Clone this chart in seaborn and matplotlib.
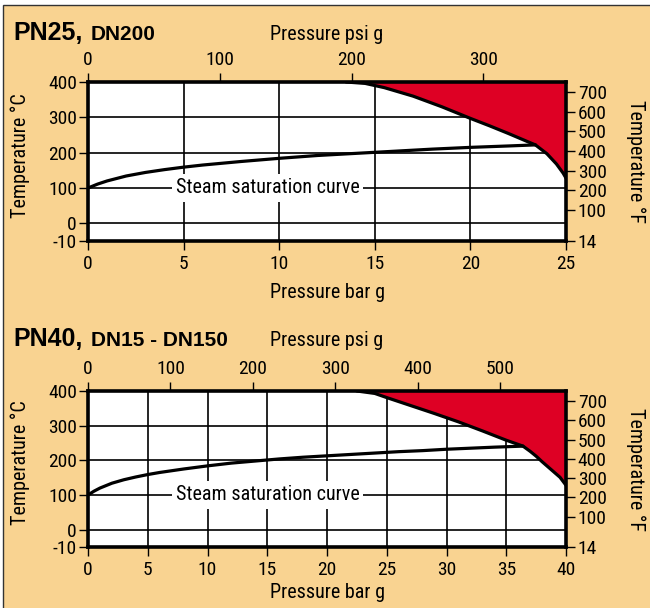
import numpy as np
import matplotlib
matplotlib.use("Agg")
import matplotlib.pyplot as plt
import matplotlib.transforms as mtransforms
from matplotlib.patches import Rectangle
import seaborn as sns
import pandas as pd

# ---------------- data ----------------
# Panel 1: PN25, DN200
sat25_p = [0, 0.5, 1, 2, 3, 4, 5, 6, 8, 10, 12, 14, 16, 18, 20, 22, 23.4]
sat25_t = [100, 111, 120, 134, 144, 152, 159, 165, 175, 184, 192, 198, 204, 210, 215, 219, 222]
lim25_p = [13.5, 14.5, 15.5, 17, 18.5, 20, 21, 22, 23, 23.4, 24, 24.5, 24.85, 25]
lim25_t = [400, 396, 384, 360, 330, 297, 276, 254, 231, 222, 197, 168, 142, 128]

# Panel 2: PN40, DN15 - DN150
sat40_p = [0, 0.5, 1, 2, 3, 4, 5, 6, 8, 10, 12, 14, 16, 18, 20, 22, 24, 26, 28, 30, 32, 34, 36.4]
sat40_t = [100, 111, 120, 134, 144, 152, 159, 165, 175, 184, 192, 198, 204, 209, 213, 217,
           221, 225, 228, 232, 235, 238, 241]
lim40_p = [22.5, 24, 25, 27, 29, 30, 31, 33, 35, 36.4, 37, 37.5, 38, 38.5, 39, 39.5, 40]
lim40_t = [400, 393, 381, 358, 335, 323, 311, 285, 258, 241, 226, 212, 196, 181, 166, 151, 128]

bar_ticks25 = [0, 5, 10, 15, 20, 25]
bar_ticks40 = [0, 5, 10, 15, 20, 25, 30, 35, 40]
psi_ticks25 = [0, 100, 200, 300]
psi_ticks40 = [0, 100, 200, 300, 400, 500]
degc_ticks = [-10, 0, 100, 200, 300, 400]
degf_ticks = [14, 100, 200, 300, 400, 500, 600, 700]

titles = [("PN25,", "DN200"), ("PN40,", "DN15 - DN150")]
curve_label = "Steam saturation curve"

# ---------------- style ----------------
sns.set_theme(style="white")
plt.rcParams["font.family"] = ["Roboto Condensed", "Liberation Sans", "DejaVu Sans"]
plt.rcParams["text.color"] = "black"
plt.rcParams["xtick.color"] = "black"
plt.rcParams["ytick.color"] = "black"

CREAM = "#F9D391"
RED = "#DE0024"
W, H = 650, 608
K = 5.0  # stretch of the -10..0 band


def fwd(y):
    y = np.asarray(y, dtype=float)
    return np.where(y < 0, y * K, y)


def inv(y):
    y = np.asarray(y, dtype=float)
    return np.where(y < 0, y / K, y)


def fwdF(f):
    f = np.asarray(f, dtype=float)
    return fwd((f - 32) * 5 / 9)


def invF(v):
    return inv(v) * 9 / 5 + 32


fig = plt.figure(figsize=(W / 100, H / 100), dpi=100)
fig.patch.set_facecolor("white")
fig.patches.append(Rectangle((3 / W, -0.1), 1.2, 1 - 5 / H + 0.1, transform=fig.transFigure,
                             facecolor=CREAM, edgecolor="#333333", linewidth=1.0, zorder=-10))


def px(x, y):
    return x / W, 1 - y / H


panels = [
    dict(top=82, bottom=241, xmax=25, sat_p=sat25_p, sat_t=sat25_t, lim_p=lim25_p, lim_t=lim25_t,
         bticks=bar_ticks25, pticks=psi_ticks25, title=titles[0], ty=40, by=298),
    dict(top=391, bottom=547, xmax=40, sat_p=sat40_p, sat_t=sat40_t, lim_p=lim40_p, lim_t=lim40_t,
         bticks=bar_ticks40, pticks=psi_ticks40, title=titles[1], ty=346, by=598),
]

LEFT, RIGHT = 88, 566
TICK_FS = 14
LAB_FS = 14.5

for P in panels:
    l, b = px(LEFT, P["bottom"])
    ax = fig.add_axes([l, b, (RIGHT - LEFT) / W, (P["bottom"] - P["top"]) / H])
    ax.set_facecolor("white")
    ax.set_yscale("function", functions=(fwd, inv))
    ax.set_xlim(0, P["xmax"])
    ax.set_ylim(-10, 400)

    # grid
    ax.set_axisbelow(True)
    ax.set_xticks(P["bticks"])
    ax.set_yticks(degc_ticks)
    ax.grid(True, color="black", linewidth=1.2)

    # red limit region and curves
    ax.fill_between(P["lim_p"], P["lim_t"], 400, color=RED, linewidth=0, zorder=1)
    df_lim = pd.DataFrame({"p": P["lim_p"], "t": P["lim_t"]})
    sns.lineplot(data=df_lim, x="p", y="t", ax=ax, color="black", linewidth=2.3, zorder=3)
    df_sat = pd.DataFrame({"p": P["sat_p"], "t": P["sat_t"]})
    sns.lineplot(data=df_sat, x="p", y="t", ax=ax, color="black", linewidth=2.3, zorder=3)
    ax.set_xlabel("")
    ax.set_ylabel("")

    ax.text(0.3755, 100, curve_label,
            transform=mtransforms.blended_transform_factory(ax.transAxes, ax.transData),
            ha="center", va="center", fontsize=LAB_FS, color="black", zorder=4,
            bbox=dict(boxstyle="square,pad=0.2", facecolor="white", edgecolor="none"))

    for s in ax.spines.values():
        s.set_linewidth(2.6)
        s.set_color("black")
        s.set_zorder(5)

    ax.tick_params(axis="both", which="major", direction="out", length=6.5, width=1.0,
                   color="black", labelsize=TICK_FS, labelcolor="black")
    ax.tick_params(axis="x", pad=3.5, bottom=True)
    ax.tick_params(axis="y", pad=1.5, left=True)
    ax.set_xticklabels([str(v) for v in P["bticks"]])
    ax.set_yticklabels([str(v) for v in degc_ticks])

    # top psi axis
    sec = ax.secondary_xaxis("top", functions=(lambda x: x * 14.5038, lambda x: x / 14.5038))
    sec.set_xticks(P["pticks"])
    sec.set_xticklabels([str(v) for v in P["pticks"]])
    sec.tick_params(direction="out", length=6.5, width=1.0, color="black", labelsize=TICK_FS,
                    pad=2.5, labelcolor="black")
    sec.spines["top"].set_visible(False)

    # right Fahrenheit axis
    ax2 = ax.twinx()
    ax2.set_yscale("function", functions=(fwdF, invF))
    ax2.set_ylim(14, 752)
    ax2.set_yticks(degf_ticks)
    ax2.set_yticklabels([str(v) for v in degf_ticks])
    ax2.grid(False)
    for s in ax2.spines.values():
        s.set_visible(False)
    ax2.tick_params(axis="y", direction="out", length=6.5, width=1.0, color="black",
                    labelsize=TICK_FS, pad=2.0, right=True, labelcolor="black")

    # labels
    fig.text(*px(13, P["ty"]), P["title"][0], fontsize=18, fontweight="bold",
             family=["Liberation Sans", "DejaVu Sans"], ha="left", va="baseline")
    fig.text(*px(91, P["ty"]), P["title"][1], fontsize=15, fontweight="bold",
             family=["Liberation Sans", "DejaVu Sans"], ha="left", va="baseline")
    fig.text(*px(327, P["ty"]), "Pressure psi g", fontsize=LAB_FS, ha="center", va="baseline")
    fig.text(*px(327, P["by"]), "Pressure bar g", fontsize=LAB_FS, ha="center", va="baseline")
    midy = (P["top"] + P["bottom"]) / 2
    fig.text(*px(20, midy - 6), "Temperature °C", fontsize=LAB_FS, rotation=90,
             ha="center", va="center")
    fig.text(*px(636, midy), "Temperature °F", fontsize=LAB_FS, rotation=-90,
             ha="center", va="center")

fig.savefig("out.png", dpi=100, facecolor=fig.get_facecolor())
